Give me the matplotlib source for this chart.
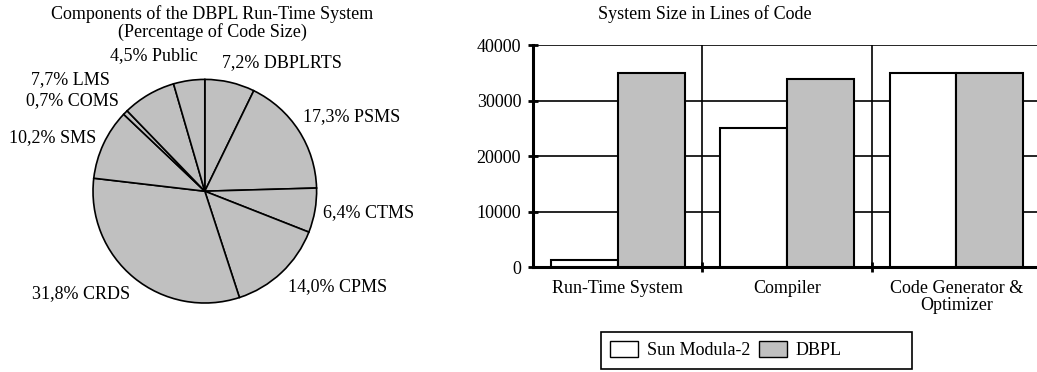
import numpy as np
import matplotlib.pyplot as plt
from matplotlib.patches import Patch, Rectangle

plt.rcParams['font.family'] = ['Liberation Serif', 'DejaVu Serif']
plt.rcParams['font.size'] = 13

# ---- data ----
pie_names = ["DBPLRTS", "PSMS", "CTMS", "CPMS", "CRDS", "SMS", "COMS", "LMS", "Public"]
pie_pcts = [7.2, 17.3, 6.4, 14.0, 31.8, 10.2, 0.7, 7.7, 4.5]

categories = ["Run-Time System", "Compiler", "Code Generator &\nOptimizer"]
sun_modula = [1200, 25000, 35000]
dbpl = [35000, 33800, 35000]

# label anchors (pie radius units) and alignment
label_pos = [(0.15, 1.15, 'left'), (0.88, 0.67, 'left'), (1.06, -0.19, 'left'),
             (0.74, -0.85, 'left'), (-0.67, -0.92, 'right'), (-0.97, 0.48, 'right'),
             (-0.77, 0.81, 'right'), (-0.85, 1.0, 'right'), (-0.06, 1.21, 'right')]

fig = plt.figure(figsize=(10.37, 3.72), dpi=100)

# ---- pie ----
ax1 = fig.add_axes([0.025, 0.005, 0.345, 0.962])
ax1.pie(pie_pcts, startangle=90, counterclock=False, colors=['#c0c0c0'] * len(pie_pcts),
        wedgeprops=dict(edgecolor='black', linewidth=1.2))
ax1.set_xlim(-1.6, 1.6)
ax1.set_ylim(-1.6, 1.6)
ax1.set_aspect('equal')
ax1.axis('off')
for name, pct, (x, y, ha) in zip(pie_names, pie_pcts, label_pos):
    ax1.text(x, y, f"{pct:.1f}% {name}".replace('.', ','), ha=ha, va='center')

fig.text(0.205, 0.985, "Components of the DBPL Run-Time System\n(Percentage of Code Size)",
         ha='center', va='top', linespacing=1.0)

# ---- bars ----
ax2 = fig.add_axes([0.514, 0.282, 0.49, 0.597])
x = np.arange(len(categories))
w = 0.395
ax2.bar(x - w / 2, sun_modula, w, color='white', edgecolor='black', linewidth=1.5, zorder=3)
ax2.bar(x + w / 2, dbpl, w, color='#c0c0c0', edgecolor='black', linewidth=1.5, zorder=3)
ax2.set_xlim(-0.5, 2.5)
ax2.set_ylim(0, 40000)
ax2.set_yticks([0, 10000, 20000, 30000, 40000])
ax2.yaxis.grid(True, color='black', linewidth=1.2, zorder=1)
for b in x[:-1] + 0.5:
    ax2.axvline(b, color='black', linewidth=1.2, zorder=1)
ax2.set_xticks(x[:-1] + 0.5)
ax2.set_xticklabels([])
# category names under each group
for xi, name in zip(x, categories):
    ax2.annotate(name, (xi, 0), xycoords=('data', 'axes fraction'),
                 xytext=(0, -9), textcoords='offset points',
                 ha='center', va='top', linespacing=1.05)
ax2.tick_params(axis='both', which='major', direction='inout', length=7, width=2)
ax2.tick_params(axis='y', pad=5)
for s in ['top', 'right']:
    ax2.spines[s].set_visible(False)
for s in ['left', 'bottom']:
    ax2.spines[s].set_linewidth(2.2)

fig.text(0.68, 0.985, "System Size in Lines of Code", ha='center', va='top')

handles = [Patch(facecolor='white', edgecolor='black', label='Sun Modula-2'),
           Patch(facecolor='#c0c0c0', edgecolor='black', label='DBPL')]
fig.legend(handles=handles, loc='center', bbox_to_anchor=(0.70, 0.058), ncol=2,
           frameon=False, handlelength=1.55, handleheight=0.95,
           columnspacing=0.45, handletextpad=0.5, borderpad=0.3)
fig.patches.append(Rectangle((0.5796, 0.008), 0.2999, 0.0995, transform=fig.transFigure,
                             fill=False, edgecolor='black', linewidth=1.2))

fig.savefig("out.png", dpi=100)
